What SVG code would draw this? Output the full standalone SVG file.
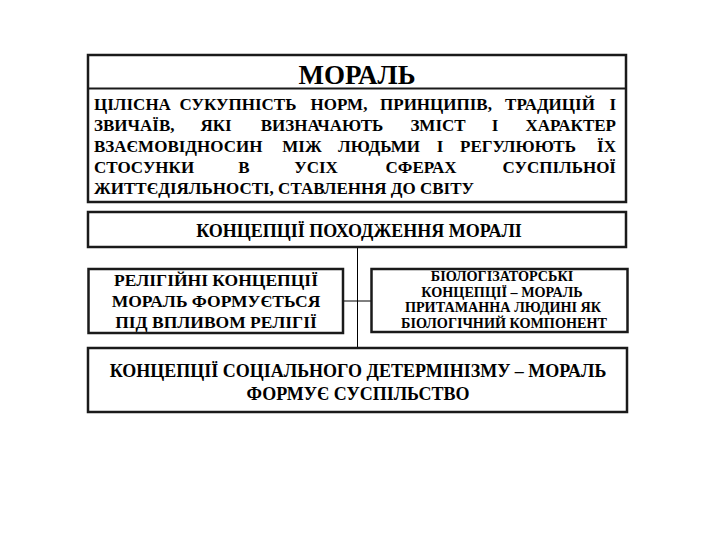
<svg xmlns="http://www.w3.org/2000/svg" width="720" height="540" viewBox="0 0 720 540">
<style>
.box{fill:#fff;stroke:#1a1a1a;stroke-width:2.5}
.bord{fill:none;stroke:#1a1a1a;stroke-width:2.5}
text{font-family:'Liberation Serif','Times New Roman',serif;font-weight:700;fill:#000}
.b{font-size:17px}
.m{text-anchor:middle}
.e{text-anchor:end}
.conn{stroke:#000;stroke-width:1;fill:none}
</style>
<rect width="720" height="540" fill="#fff"/>
<g id="connectors">
<line class="conn" x1="357.5" y1="247" x2="357.5" y2="348"/>
<line class="conn" x1="343" y1="301" x2="371" y2="301"/>
</g>
<g id="morality" font-family="Liberation Serif">
<rect class="box" x="88" y="55" width="538" height="147"/>
<line x1="88" y1="88.5" x2="626" y2="88.5" stroke="#1a1a1a" stroke-width="2"/>
<text class="m" x="357" y="84" font-size="27">МОРАЛЬ</text>
<g class="b">
<text x="94" y="109.5">ЦІЛІСНА</text>
<text class="m" x="238" y="109.5">СУКУПНІСТЬ</text>
<text class="m" x="339" y="109.5">НОРМ,</text>
<text class="m" x="436" y="109.5">ПРИНЦИПІВ,</text>
<text class="m" x="550" y="109.5">ТРАДИЦІЙ</text>
<text class="e" x="616" y="109.5">І</text>
<text x="94" y="130.5">ЗВИЧАЇВ,</text>
<text class="m" x="216" y="130.5">ЯКІ</text>
<text class="m" x="322" y="130.5">ВИЗНАЧАЮТЬ</text>
<text class="m" x="438" y="130.5">ЗМІСТ</text>
<text class="m" x="495" y="130.5">І</text>
<text class="e" x="616" y="130.5">ХАРАКТЕР</text>
<text x="94" y="151.5">ВЗАЄМОВІДНОСИН</text>
<text class="m" x="302" y="151.5">МІЖ</text>
<text class="m" x="379" y="151.5">ЛЮДЬМИ</text>
<text class="m" x="440" y="151.5">І</text>
<text class="m" x="518" y="151.5">РЕГУЛЮЮТЬ</text>
<text class="e" x="616" y="151.5">ЇХ</text>
<text x="94" y="172.5">СТОСУНКИ</text>
<text class="m" x="244" y="172.5">В</text>
<text class="m" x="316" y="172.5">УСІХ</text>
<text class="m" x="421" y="172.5">СФЕРАХ</text>
<text class="e" x="616" y="172.5">СУСПІЛЬНОЇ</text>
<text x="94" y="193.5">ЖИТТЄДІЯЛЬНОСТІ, СТАВЛЕННЯ ДО СВІТУ</text>
</g>
</g>
<g id="origin-concepts" font-family="Liberation Serif">
<rect class="box" x="88" y="212" width="538" height="35"/>
<text class="m" x="359" y="237" font-size="18">КОНЦЕПЦІЇ ПОХОДЖЕННЯ МОРАЛІ</text>
</g>
<g id="religious" font-family="Liberation Serif">
<rect class="box" x="88.5" y="269" width="254.5" height="64"/>
<g font-size="17.5">
<text class="m" x="216" y="285.5">РЕЛІГІЙНІ КОНЦЕПЦІЇ</text>
<text class="m" x="216" y="307">МОРАЛЬ ФОРМУЄТЬСЯ</text>
<text class="m" x="216" y="328">ПІД ВПЛИВОМ РЕЛІГІЇ</text>
</g>
</g>
<g id="biological" font-family="Liberation Serif">
<rect x="371.5" y="269" width="256" height="63" fill="#fff"/>
<g font-size="14.2">
<text class="m" x="502" y="281">БІОЛОГІЗАТОРСЬКІ</text>
<text class="m" x="502" y="296.5">КОНЦЕПЦІЇ – МОРАЛЬ</text>
<text class="m" x="503" y="312">ПРИТАМАННА ЛЮДИНІ ЯК</text>
<text class="m" x="504" y="328">БІОЛОГІЧНИЙ КОМПОНЕНТ</text>
</g>
<rect class="bord" x="371.5" y="269" width="256" height="63"/>
</g>
<g id="social" font-family="Liberation Serif">
<rect class="box" x="88" y="348" width="539" height="64"/>
<g font-size="18">
<text class="m" x="358" y="377">КОНЦЕПЦІЇ СОЦІАЛЬНОГО ДЕТЕРМІНІЗМУ – МОРАЛЬ</text>
<text class="m" x="358" y="400">ФОРМУЄ СУСПІЛЬСТВО</text>
</g>
</g>
</svg>
